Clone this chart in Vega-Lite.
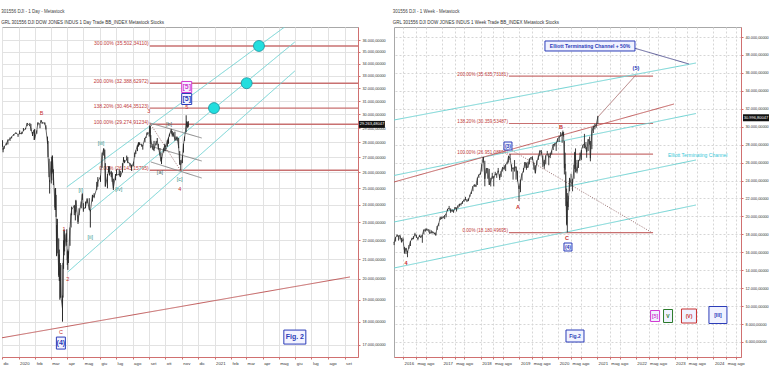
{
"$schema": "https://vega.github.io/schema/vega-lite/v6.json",
"background": "white",
"padding": {"left": 0, "top": 8, "right": 0, "bottom": 0},
"spacing": 6,
"config": {
  "font": "Liberation Sans",
  "view": {"stroke": "#a8a8a8"},
  "axis": {"labelFont": "Liberation Sans", "labelColor": "#333333", "domainColor": "#d07070", "tickColor": "#d07070", "gridColor": "#dedede", "labelFontSize": 4, "tickSize": 2, "labelPadding": 2, "labelOverlap": false},
  "title": {"fontSize": 4.5, "subtitleFontSize": 4.5, "anchor": "start", "color": "#444444", "subtitleColor": "#333333", "fontWeight": "normal", "offset": 3, "subtitlePadding": 6, "font": "Liberation Sans", "subtitleFont": "Liberation Sans"}
},
"datasets": {
  "pxL": [
    {"d":"2019-12-02","l":27700,"h":28150,"c":27783},
    {"d":"2019-12-03","l":27320,"h":27600,"c":27502},
    {"d":"2019-12-05","l":27550,"h":27750,"c":27677},
    {"d":"2019-12-09","l":27800,"h":27950,"c":27909},
    {"d":"2019-12-12","l":27850,"h":28200,"c":28132},
    {"d":"2019-12-16","l":28100,"h":28340,"c":28235},
    {"d":"2019-12-19","l":28270,"h":28400,"c":28377},
    {"d":"2019-12-23","l":28450,"h":28580,"c":28551},
    {"d":"2019-12-27","l":28600,"h":28700,"c":28645},
    {"d":"2019-12-31","l":28380,"h":28550,"c":28538},
    {"d":"2020-01-03","l":28560,"h":28830,"c":28634},
    {"d":"2020-01-07","l":28580,"h":28740,"c":28584},
    {"d":"2020-01-10","l":28800,"h":29000,"c":28823},
    {"d":"2020-01-14","l":28900,"h":29010,"c":28940},
    {"d":"2020-01-17","l":29140,"h":29370,"c":29348},
    {"d":"2020-01-22","l":29150,"h":29370,"c":29186},
    {"d":"2020-01-24","l":28800,"h":29300,"c":28990},
    {"d":"2020-01-27","l":28440,"h":28720,"c":28535},
    {"d":"2020-01-30","l":28160,"h":28880,"c":28859},
    {"d":"2020-01-31","l":28170,"h":28930,"c":28256},
    {"d":"2020-02-04","l":28600,"h":28840,"c":28807},
    {"d":"2020-02-06","l":29200,"h":29410,"c":29380},
    {"d":"2020-02-10","l":28990,"h":29280,"c":29276},
    {"d":"2020-02-12","l":29400,"h":29570,"c":29551},
    {"d":"2020-02-14","l":29300,"h":29420,"c":29398},
    {"d":"2020-02-19","l":29250,"h":29410,"c":29348},
    {"d":"2020-02-21","l":28900,"h":29200,"c":28992},
    {"d":"2020-02-24","l":27900,"h":28400,"c":27961},
    {"d":"2020-02-25","l":27000,"h":28100,"c":27081},
    {"d":"2020-02-27","l":25700,"h":26900,"c":25766},
    {"d":"2020-02-28","l":24680,"h":25500,"c":25409},
    {"d":"2020-03-02","l":25300,"h":26720,"c":26703},
    {"d":"2020-03-03","l":25500,"h":27000,"c":25917},
    {"d":"2020-03-04","l":26000,"h":27100,"c":27091},
    {"d":"2020-03-06","l":25200,"h":26200,"c":25865},
    {"d":"2020-03-09","l":23700,"h":24990,"c":23851},
    {"d":"2020-03-10","l":23700,"h":25020,"c":25018},
    {"d":"2020-03-11","l":23300,"h":24600,"c":23553},
    {"d":"2020-03-12","l":21150,"h":22840,"c":21200},
    {"d":"2020-03-13","l":21300,"h":23190,"c":23185},
    {"d":"2020-03-16","l":20100,"h":22100,"c":20189},
    {"d":"2020-03-17","l":19900,"h":21500,"c":21237},
    {"d":"2020-03-18","l":19000,"h":20600,"c":19899},
    {"d":"2020-03-19","l":19100,"h":20800,"c":20087},
    {"d":"2020-03-20","l":19100,"h":20700,"c":19174},
    {"d":"2020-03-23","l":18000,"h":19200,"c":18592},
    {"d":"2020-03-24","l":19100,"h":20800,"c":20705},
    {"d":"2020-03-25","l":20500,"h":22000,"c":21200},
    {"d":"2020-03-26","l":21200,"h":22600,"c":22552},
    {"d":"2020-03-27","l":21400,"h":22300,"c":21637},
    {"d":"2020-03-30","l":21700,"h":22400,"c":22327},
    {"d":"2020-03-31","l":21900,"h":22600,"c":21917},
    {"d":"2020-04-01","l":20700,"h":21400,"c":20943},
    {"d":"2020-04-02","l":20450,"h":21500,"c":21413},
    {"d":"2020-04-03","l":20800,"h":21400,"c":21053},
    {"d":"2020-04-06","l":21700,"h":22700,"c":22680},
    {"d":"2020-04-08","l":22700,"h":23500,"c":23433},
    {"d":"2020-04-09","l":23400,"h":23900,"c":23719},
    {"d":"2020-04-14","l":23400,"h":24000,"c":23949},
    {"d":"2020-04-16","l":23100,"h":23700,"c":23537},
    {"d":"2020-04-17","l":23600,"h":24300,"c":24242},
    {"d":"2020-04-21","l":22900,"h":23400,"c":23018},
    {"d":"2020-04-23","l":23400,"h":23800,"c":23515},
    {"d":"2020-04-27","l":23800,"h":24200,"c":24134},
    {"d":"2020-04-29","l":24300,"h":24700,"c":24634},
    {"d":"2020-05-01","l":23600,"h":24100,"c":23724},
    {"d":"2020-05-05","l":23800,"h":24200,"c":23883},
    {"d":"2020-05-08","l":24100,"h":24400,"c":24331},
    {"d":"2020-05-12","l":23700,"h":24400,"c":23764},
    {"d":"2020-05-14","l":22700,"h":23700,"c":23625},
    {"d":"2020-05-18","l":24200,"h":24600,"c":24597},
    {"d":"2020-05-21","l":24400,"h":24700,"c":24474},
    {"d":"2020-05-26","l":24900,"h":25400,"c":24995},
    {"d":"2020-05-28","l":25100,"h":25700,"c":25400},
    {"d":"2020-06-02","l":25400,"h":25800,"c":25742},
    {"d":"2020-06-05","l":26300,"h":27300,"c":27111},
    {"d":"2020-06-08","l":27100,"h":27580,"c":27572},
    {"d":"2020-06-10","l":26900,"h":27500,"c":26990},
    {"d":"2020-06-11","l":25100,"h":26600,"c":25128},
    {"d":"2020-06-15","l":25000,"h":25900,"c":25763},
    {"d":"2020-06-17","l":26000,"h":26400,"c":26119},
    {"d":"2020-06-19","l":25800,"h":26400,"c":25871},
    {"d":"2020-06-22","l":25700,"h":26100,"c":26025},
    {"d":"2020-06-24","l":25400,"h":26000,"c":25445},
    {"d":"2020-06-26","l":24900,"h":25600,"c":25016},
    {"d":"2020-06-30","l":25500,"h":25900,"c":25813},
    {"d":"2020-07-02","l":25800,"h":26200,"c":25827},
    {"d":"2020-07-07","l":25800,"h":26200,"c":25890},
    {"d":"2020-07-09","l":25700,"h":26100,"c":25706},
    {"d":"2020-07-13","l":26000,"h":26600,"c":26086},
    {"d":"2020-07-15","l":26700,"h":27000,"c":26870},
    {"d":"2020-07-17","l":26600,"h":26800,"c":26672},
    {"d":"2020-07-21","l":26800,"h":27100,"c":26840},
    {"d":"2020-07-23","l":26600,"h":27000,"c":26652},
    {"d":"2020-07-27","l":26400,"h":26600,"c":26584},
    {"d":"2020-07-30","l":26100,"h":26500,"c":26313},
    {"d":"2020-08-03","l":26400,"h":26700,"c":26664},
    {"d":"2020-08-05","l":27000,"h":27300,"c":27201},
    {"d":"2020-08-07","l":27200,"h":27450,"c":27433},
    {"d":"2020-08-10","l":27400,"h":27800,"c":27791},
    {"d":"2020-08-12","l":27700,"h":28000,"c":27976},
    {"d":"2020-08-14","l":27800,"h":28000,"c":27931},
    {"d":"2020-08-18","l":27700,"h":27900,"c":27778},
    {"d":"2020-08-20","l":27500,"h":27800,"c":27740},
    {"d":"2020-08-24","l":28000,"h":28300,"c":28308},
    {"d":"2020-08-26","l":28300,"h":28400,"c":28332},
    {"d":"2020-08-28","l":28500,"h":28700,"c":28654},
    {"d":"2020-09-01","l":28400,"h":28650,"c":28645},
    {"d":"2020-09-02","l":28650,"h":29200,"c":29100},
    {"d":"2020-09-03","l":27900,"h":29150,"c":28293},
    {"d":"2020-09-04","l":27600,"h":28500,"c":28133},
    {"d":"2020-09-08","l":27500,"h":27900,"c":27500},
    {"d":"2020-09-10","l":27400,"h":28100,"c":27535},
    {"d":"2020-09-14","l":27800,"h":28100,"c":27993},
    {"d":"2020-09-16","l":28000,"h":28300,"c":28032},
    {"d":"2020-09-18","l":27500,"h":27900,"c":27657},
    {"d":"2020-09-21","l":27100,"h":27600,"c":27148},
    {"d":"2020-09-23","l":26700,"h":27300,"c":26763},
    {"d":"2020-09-24","l":26540,"h":27000,"c":26815},
    {"d":"2020-09-28","l":27300,"h":27600,"c":27584},
    {"d":"2020-09-30","l":27400,"h":27900,"c":27782},
    {"d":"2020-10-02","l":27400,"h":27800,"c":27683},
    {"d":"2020-10-05","l":27700,"h":28150,"c":28149},
    {"d":"2020-10-07","l":27900,"h":28350,"c":28303},
    {"d":"2020-10-09","l":28400,"h":28600,"c":28586},
    {"d":"2020-10-12","l":28600,"h":28950,"c":28837},
    {"d":"2020-10-14","l":28400,"h":28800,"c":28514},
    {"d":"2020-10-16","l":28400,"h":28700,"c":28606},
    {"d":"2020-10-19","l":28100,"h":28750,"c":28195},
    {"d":"2020-10-21","l":28200,"h":28400,"c":28211},
    {"d":"2020-10-23","l":28100,"h":28400,"c":28336},
    {"d":"2020-10-26","l":27600,"h":28300,"c":27685},
    {"d":"2020-10-28","l":26500,"h":27400,"c":26520},
    {"d":"2020-10-30","l":26140,"h":26800,"c":26502},
    {"d":"2020-11-02","l":26600,"h":27100,"c":26925},
    {"d":"2020-11-04","l":27300,"h":27900,"c":27847},
    {"d":"2020-11-06","l":28100,"h":28400,"c":28323},
    {"d":"2020-11-09","l":28700,"h":29930,"c":29158},
    {"d":"2020-11-10","l":29100,"h":29500,"c":29420},
    {"d":"2020-11-12","l":29000,"h":29450,"c":29080},
    {"d":"2020-11-13","l":29100,"h":29500,"c":29263}
  ],
  "fibL": [
    {"d1":"2020-09-02","d2":"2021-09-26","v":35502.3411,"t":"300.00% (35.502,34110)"},
    {"d1":"2020-09-02","d2":"2021-09-26","v":32388.62972,"t":"200.00% (32.388,62972)"},
    {"d1":"2020-09-02","d2":"2021-09-26","v":30464.35123,"t":"138.20% (30.464,35123)"},
    {"d1":"2020-09-02","d2":"2021-09-26","v":29274.91234,"t":"100.00% (29.274,91234)"},
    {"d1":"2020-09-02","d2":"2021-09-26","v":26143.15795,"t":"0.00% (26.143,15795)"}
  ],
  "linesL": [
    {"id":"c1","k":"cyan","d":"2020-03-31","v":25082},
    {"id":"c1","k":"cyan","d":"2021-05-12","v":37200},
    {"id":"c2","k":"cyan","d":"2020-05-13","v":23647},
    {"id":"c2","k":"cyan","d":"2021-05-31","v":35852},
    {"id":"c3","k":"cyan","d":"2020-04-02","v":20346},
    {"id":"c3","k":"cyan","d":"2021-05-31","v":33381},
    {"id":"r1","k":"red","d":"2019-12-01","v":17300},
    {"id":"r1","k":"red","d":"2021-09-11","v":20097},
    {"id":"g1","k":"grey","d":"2020-09-02","v":29370},
    {"id":"g1","k":"grey","d":"2020-12-08","v":28302},
    {"id":"g2","k":"grey","d":"2020-09-02","v":27751},
    {"id":"g2","k":"grey","d":"2020-12-08","v":26743},
    {"id":"g3","k":"grey","d":"2020-09-04","v":26678},
    {"id":"g3","k":"grey","d":"2020-12-08","v":25645},
    {"id":"d1","k":"dot","d":"2020-09-02","v":29370},
    {"id":"d1","k":"dot","d":"2020-10-30","v":26100}
  ],
  "circL": [
    {"d":"2021-03-25","v":35502.3411},
    {"d":"2021-03-02","v":32388.62972},
    {"d":"2020-12-31","v":30464.35123}
  ],
  "lblL": [
    {"d":"2020-02-13","v":30100,"t":"B","k":"red"},
    {"d":"2020-03-26","v":22619,"t":"1","k":"red"},
    {"d":"2020-04-02","v":19999,"t":"2","k":"red"},
    {"d":"2020-03-20","v":17545,"t":"C","k":"red"},
    {"d":"2020-04-26","v":24898,"t":"[i]","k":"teal"},
    {"d":"2020-05-14","v":22160,"t":"[ii]","k":"teal"},
    {"d":"2020-06-03","v":27957,"t":"[iii]","k":"teal"},
    {"d":"2020-07-06","v":24960,"t":"[iv]","k":"teal"},
    {"d":"2020-08-31","v":30249,"t":"3","k":"red"},
    {"d":"2020-09-21","v":26027,"t":"[a]","k":"grey"},
    {"d":"2020-10-08","v":29294,"t":"[b]","k":"grey"},
    {"d":"2020-10-28","v":25581,"t":"[c]","k":"teal"},
    {"d":"2020-10-28","v":24960,"t":"4","k":"red"},
    {"d":"2020-11-10","v":30547,"t":"5","k":"red"}
  ],
  "boxL": [
    {"d":"2020-11-10","v":32091,"t":"[5]","k":"mag"},
    {"d":"2020-11-10","v":31153,"t":"[5]","k":"blue"},
    {"d":"2020-03-20","v":17076,"t":"(4)","k":"blue"},
    {"d":"2021-05-31","v":17330,"t":"Fig. 2","k":"blue"}
  ],
  "tagL": [
    {"d":"2021-10-22","v":29263.48047,"t":"29.263,48047"}
  ],
  "pxR": [
    {"d":"2015-10-09","l":16800,"h":17150,"c":17084},
    {"d":"2015-10-23","l":17200,"h":17690,"c":17646},
    {"d":"2015-11-06","l":17700,"h":17980,"c":17910},
    {"d":"2015-11-20","l":17300,"h":17850,"c":17824},
    {"d":"2015-12-04","l":17450,"h":17900,"c":17848},
    {"d":"2015-12-18","l":17100,"h":17600,"c":17128},
    {"d":"2016-01-01","l":17300,"h":17650,"c":17425},
    {"d":"2016-01-15","l":15840,"h":16600,"c":15988},
    {"d":"2016-01-29","l":15800,"h":16500,"c":16466},
    {"d":"2016-02-12","l":15450,"h":16150,"c":15974},
    {"d":"2016-02-26","l":16400,"h":16800,"c":16640},
    {"d":"2016-03-11","l":16700,"h":17250,"c":17213},
    {"d":"2016-03-25","l":17350,"h":17620,"c":17515},
    {"d":"2016-04-08","l":17450,"h":17800,"c":17577},
    {"d":"2016-04-22","l":17900,"h":18170,"c":18003},
    {"d":"2016-05-06","l":17600,"h":17950,"c":17740},
    {"d":"2016-05-20","l":17330,"h":17650,"c":17500},
    {"d":"2016-06-03","l":17700,"h":17950,"c":17807},
    {"d":"2016-06-17","l":17600,"h":17870,"c":17675},
    {"d":"2016-07-01","l":17060,"h":17950,"c":17949},
    {"d":"2016-07-15","l":18000,"h":18530,"c":18516},
    {"d":"2016-07-29","l":18300,"h":18650,"c":18432},
    {"d":"2016-08-12","l":18400,"h":18670,"c":18576},
    {"d":"2016-08-26","l":18400,"h":18580,"c":18395},
    {"d":"2016-09-09","l":18080,"h":18530,"c":18085},
    {"d":"2016-09-23","l":18100,"h":18450,"c":18261},
    {"d":"2016-10-07","l":18100,"h":18330,"c":18240},
    {"d":"2016-10-21","l":18000,"h":18200,"c":18145},
    {"d":"2016-11-04","l":17880,"h":18200,"c":17888},
    {"d":"2016-11-18","l":18500,"h":18930,"c":18868},
    {"d":"2016-12-02","l":18900,"h":19230,"c":19170},
    {"d":"2016-12-16","l":19600,"h":19950,"c":19843},
    {"d":"2016-12-30","l":19700,"h":19980,"c":19763},
    {"d":"2017-01-13","l":19800,"h":20000,"c":19885},
    {"d":"2017-01-27","l":19700,"h":20130,"c":20093},
    {"d":"2017-02-10","l":19900,"h":20300,"c":20269},
    {"d":"2017-02-24","l":20600,"h":20850,"c":20822},
    {"d":"2017-03-10","l":20800,"h":21170,"c":20902},
    {"d":"2017-03-24","l":20400,"h":20900,"c":20597},
    {"d":"2017-04-07","l":20500,"h":20800,"c":20656},
    {"d":"2017-04-21","l":20400,"h":20700,"c":20548},
    {"d":"2017-05-05","l":20800,"h":21050,"c":21006},
    {"d":"2017-05-19","l":20550,"h":21000,"c":20804},
    {"d":"2017-06-02","l":20900,"h":21220,"c":21206},
    {"d":"2017-06-16","l":21100,"h":21400,"c":21384},
    {"d":"2017-06-30","l":21200,"h":21450,"c":21350},
    {"d":"2017-07-14","l":21400,"h":21690,"c":21638},
    {"d":"2017-07-28","l":21600,"h":21900,"c":21830},
    {"d":"2017-08-11","l":21800,"h":22180,"c":21858},
    {"d":"2017-08-25","l":21600,"h":21900,"c":21813},
    {"d":"2017-09-08","l":21700,"h":22000,"c":21798},
    {"d":"2017-09-22","l":22200,"h":22420,"c":22350},
    {"d":"2017-10-06","l":22500,"h":22780,"c":22773},
    {"d":"2017-10-20","l":22800,"h":23370,"c":23329},
    {"d":"2017-11-03","l":23300,"h":23560,"c":23539},
    {"d":"2017-11-17","l":23270,"h":23530,"c":23358},
    {"d":"2017-12-01","l":23500,"h":24330,"c":24232},
    {"d":"2017-12-15","l":24300,"h":24670,"c":24651},
    {"d":"2017-12-29","l":24650,"h":24880,"c":24719},
    {"d":"2018-01-12","l":25000,"h":25810,"c":25803},
    {"d":"2018-01-26","l":26000,"h":26620,"c":26616},
    {"d":"2018-02-09","l":23360,"h":26200,"c":24190},
    {"d":"2018-02-23","l":24800,"h":25400,"c":25310},
    {"d":"2018-03-09","l":24200,"h":25360,"c":25335},
    {"d":"2018-03-23","l":23500,"h":25300,"c":23533},
    {"d":"2018-04-06","l":23340,"h":24300,"c":23932},
    {"d":"2018-04-20","l":24200,"h":24860,"c":24462},
    {"d":"2018-05-04","l":23340,"h":24500,"c":24262},
    {"d":"2018-05-18","l":24600,"h":24970,"c":24715},
    {"d":"2018-06-01","l":24300,"h":24800,"c":24635},
    {"d":"2018-06-15","l":24950,"h":25400,"c":25090},
    {"d":"2018-06-29","l":24050,"h":24700,"c":24271},
    {"d":"2018-07-13","l":24400,"h":25050,"c":25019},
    {"d":"2018-07-27","l":25000,"h":25500,"c":25451},
    {"d":"2018-08-10","l":25200,"h":25700,"c":25313},
    {"d":"2018-08-24","l":25050,"h":25800,"c":25790},
    {"d":"2018-09-07","l":25800,"h":26100,"c":25917},
    {"d":"2018-09-21","l":26000,"h":26760,"c":26743},
    {"d":"2018-10-05","l":26300,"h":26950,"c":26447},
    {"d":"2018-10-19","l":25000,"h":25800,"c":25444},
    {"d":"2018-11-02","l":24100,"h":25500,"c":25270},
    {"d":"2018-11-16","l":25000,"h":26280,"c":25413},
    {"d":"2018-11-30","l":24100,"h":25550,"c":25538},
    {"d":"2018-12-14","l":23900,"h":25100,"c":24100},
    {"d":"2018-12-28","l":21710,"h":23400,"c":23062},
    {"d":"2019-01-11","l":22700,"h":24100,"c":23996},
    {"d":"2019-01-25","l":24000,"h":24800,"c":24737},
    {"d":"2019-02-08","l":24900,"h":25400,"c":25106},
    {"d":"2019-02-22","l":25400,"h":26060,"c":26031},
    {"d":"2019-03-08","l":25200,"h":26000,"c":25450},
    {"d":"2019-03-22","l":25400,"h":26100,"c":25502},
    {"d":"2019-04-05","l":25800,"h":26450,"c":26425},
    {"d":"2019-04-19","l":26300,"h":26580,"c":26559},
    {"d":"2019-05-03","l":26300,"h":26700,"c":26505},
    {"d":"2019-05-17","l":25200,"h":26000,"c":25764},
    {"d":"2019-05-31","l":24800,"h":25700,"c":24815},
    {"d":"2019-06-14","l":25700,"h":26250,"c":26090},
    {"d":"2019-06-28","l":26300,"h":26800,"c":26600},
    {"d":"2019-07-12","l":26700,"h":27350,"c":27332},
    {"d":"2019-07-26","l":27000,"h":27400,"c":27192},
    {"d":"2019-08-09","l":25500,"h":26800,"c":26287},
    {"d":"2019-08-23","l":25300,"h":26300,"c":25628},
    {"d":"2019-09-06","l":25800,"h":26800,"c":26797},
    {"d":"2019-09-20","l":26900,"h":27300,"c":26935},
    {"d":"2019-10-04","l":25700,"h":27000,"c":26573},
    {"d":"2019-10-18","l":26500,"h":27100,"c":26770},
    {"d":"2019-11-01","l":26900,"h":27350,"c":27347},
    {"d":"2019-11-15","l":27400,"h":28050,"c":28005},
    {"d":"2019-11-29","l":27800,"h":28160,"c":28051},
    {"d":"2019-12-13","l":27300,"h":28250,"c":28135},
    {"d":"2019-12-27","l":28300,"h":28700,"c":28645},
    {"d":"2020-01-10","l":28300,"h":29000,"c":28823},
    {"d":"2020-01-24","l":28900,"h":29400,"c":28990},
    {"d":"2020-02-07","l":28200,"h":29300,"c":29102},
    {"d":"2020-02-14","l":29000,"h":29570,"c":29398},
    {"d":"2020-02-21","l":28900,"h":29400,"c":28992},
    {"d":"2020-02-28","l":24680,"h":28400,"c":25409},
    {"d":"2020-03-06","l":25200,"h":27100,"c":25865},
    {"d":"2020-03-13","l":21150,"h":25000,"c":23185},
    {"d":"2020-03-20","l":19000,"h":23100,"c":19174},
    {"d":"2020-03-27","l":18214,"h":22600,"c":21637},
    {"d":"2020-04-03","l":20700,"h":22300,"c":21053},
    {"d":"2020-04-17","l":22800,"h":24300,"c":24242},
    {"d":"2020-05-01","l":23300,"h":24760,"c":23724},
    {"d":"2020-05-15","l":22800,"h":24200,"c":23685},
    {"d":"2020-05-29","l":24200,"h":25760,"c":25383},
    {"d":"2020-06-05","l":25300,"h":27200,"c":27111},
    {"d":"2020-06-12","l":24900,"h":27580,"c":25605},
    {"d":"2020-06-26","l":24800,"h":26300,"c":25016},
    {"d":"2020-07-10","l":25400,"h":26300,"c":26075},
    {"d":"2020-07-24","l":26200,"h":27100,"c":26470},
    {"d":"2020-08-07","l":26300,"h":27400,"c":27433},
    {"d":"2020-08-21","l":27600,"h":28000,"c":27930},
    {"d":"2020-09-04","l":27600,"h":29200,"c":28133},
    {"d":"2020-09-18","l":27500,"h":28300,"c":27657},
    {"d":"2020-09-25","l":26540,"h":27700,"c":27174},
    {"d":"2020-10-09","l":27300,"h":28600,"c":28586},
    {"d":"2020-10-23","l":28000,"h":28900,"c":28336},
    {"d":"2020-10-30","l":26140,"h":28400,"c":26502},
    {"d":"2020-11-13","l":27500,"h":29930,"c":29480},
    {"d":"2020-11-27","l":29300,"h":30120,"c":29910},
    {"d":"2020-12-11","l":29700,"h":30320,"c":30046},
    {"d":"2020-12-24","l":29900,"h":30300,"c":30199},
    {"d":"2021-01-08","l":30300,"h":31200,"c":31097}
  ],
  "fibR": [
    {"d1":"2018-09-24","d2":"2022-06-12","v":35635.73181,"t":"200.00% (35.635,73181)"},
    {"d1":"2018-09-24","d2":"2022-06-12","v":30359.53487,"t":"138.20% (30.359,53487)"},
    {"d1":"2018-09-24","d2":"2022-06-12","v":26951.08594,"t":"100.00% (26.951,08594)"},
    {"d1":"2018-09-24","d2":"2022-06-12","v":18180.49695,"t":"0.00% (18.180,49695)"}
  ],
  "linesR": [
    {"id":"c1","k":"cyan","d":"2015-10-08","v":30747},
    {"id":"c1","k":"cyan","d":"2023-07-21","v":37101},
    {"id":"c2","k":"cyan","d":"2015-10-08","v":24560},
    {"id":"c2","k":"cyan","d":"2023-07-21","v":31472},
    {"id":"c3","k":"cyan","d":"2015-10-08","v":19376},
    {"id":"c3","k":"cyan","d":"2023-07-21","v":26288},
    {"id":"c4","k":"cyan","d":"2015-10-08","v":14247},
    {"id":"c4","k":"cyan","d":"2023-07-21","v":21271},
    {"id":"r1","k":"red","d":"2015-10-08","v":23835},
    {"id":"r1","k":"red","d":"2022-12-26","v":32531},
    {"id":"n1","k":"navy","d":"2021-12-14","v":38774},
    {"id":"n1","k":"navy","d":"2023-05-16","v":36990},
    {"id":"d1","k":"dot","d":"2018-09-15","v":27625},
    {"id":"d1","k":"dot","d":"2022-05-23","v":18261},
    {"id":"p1","k":"thin","d":"2021-01-09","v":31081},
    {"id":"p1","k":"thin","d":"2022-01-02","v":35764}
  ],
  "lblR": [
    {"d":"2016-01-29","v":14805,"t":"4","k":"red"},
    {"d":"2018-12-18","v":21048,"t":"A","k":"red"},
    {"d":"2020-01-27","v":29967,"t":"B","k":"red"},
    {"d":"2020-03-24","v":17592,"t":"C","k":"red"},
    {"d":"2022-01-02","v":36544,"t":"(5)","k":"blue"}
  ],
  "boxR": [
    {"d":"2018-09-15","v":27848,"t":"(3)","k":"blue"},
    {"d":"2020-04-02","v":16589,"t":"(4)","k":"blue"},
    {"d":"2022-07-01","v":8896,"t":"[5]","k":"mag"},
    {"d":"2022-10-31","v":8896,"t":"V","k":"green"},
    {"d":"2023-05-16","v":8896,"t":"(V)","k":"red"},
    {"d":"2024-02-13","v":9008,"t":"[III]","k":"blue"},
    {"d":"2020-06-07","v":6667,"t":"Fig.2","k":"blue"},
    {"d":"2020-10-26","v":38997,"t":"Elliott Terminating Channel + 50%","k":"blue"}
  ],
  "noteR": [
    {"d":"2022-10-31","v":26845,"t":"Elliott Terminating Channel"}
  ],
  "tagR": [
    {"d":"2025-02-05","v":30996.80047,"t":"30.996,80047"}
  ]
},
"hconcat": [
  {
    "width": 356, "height": 330,
    "title": {"text": "301556 DJI - 1 Day - Metastock", "subtitle": "GRL  301556 DJI     DOW JONES INDUS  1 Day      Trade  BB_INDEX  Metastock  Stocks"},
    "resolve": {"scale": {"color": "independent", "stroke": "independent", "strokeDash": "independent", "shape": "independent", "size": "independent"}},
    "layer": [
      {
        "data": {"name": "fibL"},
        "mark": {"type": "rule", "color": "#c87070", "strokeWidth": 1.4},
        "encoding": {
          "x": {"field": "d1", "type": "temporal", "scale": {"type": "utc", "domain": [{"year":2019,"month":12,"date":1,"utc":true},{"year":2021,"month":9,"date":26,"utc":true}]},
                "axis": {"title": null, "orient": "bottom", "grid": true, "gridColor": "#e2e2e2", "labelAlign": "left", "labelOffset": 1, "labelFontSize": 4.3, "labelOverlap": false, "labelSeparation": 0, "tickCount": 200,
                         "values": [{"year":2019,"month":12,"date":1,"utc":true},{"year":2020,"month":1,"date":1,"utc":true},{"year":2020,"month":2,"date":1,"utc":true},{"year":2020,"month":3,"date":1,"utc":true},{"year":2020,"month":4,"date":1,"utc":true},{"year":2020,"month":5,"date":1,"utc":true},{"year":2020,"month":6,"date":1,"utc":true},{"year":2020,"month":7,"date":1,"utc":true},{"year":2020,"month":8,"date":1,"utc":true},{"year":2020,"month":9,"date":1,"utc":true},{"year":2020,"month":10,"date":1,"utc":true},{"year":2020,"month":11,"date":1,"utc":true},{"year":2020,"month":12,"date":1,"utc":true},{"year":2021,"month":1,"date":1,"utc":true},{"year":2021,"month":2,"date":1,"utc":true},{"year":2021,"month":3,"date":1,"utc":true},{"year":2021,"month":4,"date":1,"utc":true},{"year":2021,"month":5,"date":1,"utc":true},{"year":2021,"month":6,"date":1,"utc":true},{"year":2021,"month":7,"date":1,"utc":true},{"year":2021,"month":8,"date":1,"utc":true},{"year":2021,"month":9,"date":1,"utc":true}],
                         "labelExpr": "utcmonth(datum.value)==0 ? utcFormat(datum.value,'%Y') : ['gen','feb','mar','apr','mag','giu','lug','ago','set','ott','nov','dic'][utcmonth(datum.value)]"}},
          "x2": {"field": "d2"},
          "y": {"field": "v", "type": "quantitative", "scale": {"type": "log", "domain": [16500, 37200], "nice": false},
                "axis": {"title": null, "orient": "right", "grid": true, "gridColor": "#e2e2e2", "minExtent": 26, "maxExtent": 26, "labelFontSize": 3.8, "labelOverlap": false, "tickCount": 200,
                         "values": [17000,18000,19000,20000,21000,22000,23000,24000,25000,26000,27000,28000,29000,30000,31000,32000,33000,34000,35000,36000],
                         "labelExpr": "replace(replace(replace(format(datum.value, ',.5f'), ',', '_'), '.', ','), '_', '.')"}}
        }
      },
      {
        "data": {"name": "fibL"},
        "mark": {"type": "text", "align": "right", "baseline": "bottom", "dx": -1, "dy": 0.5, "fontSize": 5, "color": "#c03a3a"},
        "encoding": {
          "x": {"field": "d1", "type": "temporal"},
          "y": {"field": "v", "type": "quantitative"},
          "text": {"field": "t"}
        }
      },
      {
        "data": {"name": "linesL"},
        "mark": {"type": "line", "strokeWidth": 1, "clip": true},
        "encoding": {
          "x": {"field": "d", "type": "temporal"},
          "y": {"field": "v", "type": "quantitative"},
          "detail": {"field": "id"},
          "color": {"field": "k", "type": "nominal", "scale": {"domain": ["cyan","red","grey","dot"], "range": ["#6fd3d3","#c05a5a","#8a8a8a","#9a7070"]}, "legend": null},
          "strokeDash": {"field": "k", "type": "nominal", "scale": {"domain": ["cyan","red","grey","dot"], "range": [[1,0],[1,0],[1,0],[1,1.5]]}, "legend": null}
        }
      },
      {
        "data": {"name": "pxL"},
        "mark": {"type": "rule", "color": "#2a2a2a", "strokeWidth": 1},
        "encoding": {
          "x": {"field": "d", "type": "temporal"},
          "y": {"field": "l", "type": "quantitative"},
          "y2": {"field": "h"}
        }
      },
      {
        "data": {"name": "pxL"},
        "mark": {"type": "line", "color": "#2a2a2a", "strokeWidth": 0.7},
        "encoding": {
          "x": {"field": "d", "type": "temporal"},
          "y": {"field": "c", "type": "quantitative"}
        }
      },
      {
        "data": {"name": "circL"},
        "mark": {"type": "point", "shape": "circle", "size": 120, "filled": true, "fill": "#22dede", "stroke": "#1a8f9c", "strokeWidth": 0.8, "opacity": 1},
        "encoding": {
          "x": {"field": "d", "type": "temporal"},
          "y": {"field": "v", "type": "quantitative"}
        }
      },
      {
        "data": {"name": "lblL"},
        "mark": {"type": "text", "fontSize": 5.5},
        "encoding": {
          "x": {"field": "d", "type": "temporal"},
          "y": {"field": "v", "type": "quantitative"},
          "text": {"field": "t"},
          "color": {"field": "k", "type": "nominal", "scale": {"domain": ["red","teal","grey"], "range": ["#c83030","#2f948a","#4c6e6a"]}, "legend": null}
        }
      },
      {
        "data": {"name": "boxL"},
        "mark": {"type": "point", "size": 4, "filled": true, "fill": "#f3f3ff", "strokeWidth": 1, "opacity": 1},
        "encoding": {
          "x": {"field": "d", "type": "temporal"},
          "y": {"field": "v", "type": "quantitative"},
          "shape": {"field": "t", "type": "nominal", "scale": {"domain": ["[5]","(4)","Fig. 2"], "range": ["M-5,-5.5H5V5.5H-5Z","M-4.5,-6H4.5V6H-4.5Z","M-11,-7H11V7H-11Z"]}, "legend": null},
          "stroke": {"field": "k", "type": "nominal", "scale": {"domain": ["mag","blue"], "range": ["#d23cd2","#2b3cb8"]}, "legend": null}
        }
      },
      {
        "data": {"name": "boxL"},
        "mark": {"type": "text", "fontWeight": "bold"},
        "encoding": {
          "x": {"field": "d", "type": "temporal"},
          "y": {"field": "v", "type": "quantitative"},
          "text": {"field": "t"},
          "size": {"field": "t", "type": "ordinal", "scale": {"domain": ["[5]","(4)","Fig. 2"], "range": [7, 7, 8]}, "legend": null},
          "color": {"field": "k", "type": "nominal", "scale": {"domain": ["mag","blue"], "range": ["#d23cd2","#2b3cb8"]}, "legend": null}
        }
      },
      {
        "data": {"name": "tagL"},
        "mark": {"type": "point", "shape": "M-13,-3.5H13V3.5H-13Z", "size": 4, "filled": true, "fill": "#111111", "opacity": 1},
        "encoding": {
          "x": {"field": "d", "type": "temporal"},
          "y": {"field": "v", "type": "quantitative"}
        }
      },
      {
        "data": {"name": "tagL"},
        "mark": {"type": "text", "fontSize": 4, "color": "white"},
        "encoding": {
          "x": {"field": "d", "type": "temporal"},
          "y": {"field": "v", "type": "quantitative"},
          "text": {"field": "t"}
        }
      }
    ]
  },
  {
    "width": 347, "height": 330,
    "title": {"text": "301556 DJI - 1 Week - Metastock", "subtitle": "GRL  301556 DJI     DOW JONES INDUS  1 Week      Trade  BB_INDEX  Metastock  Stocks"},
    "resolve": {"scale": {"color": "independent", "stroke": "independent", "strokeDash": "independent", "shape": "independent", "size": "independent"}},
    "layer": [
      {
        "data": {"name": "fibR"},
        "mark": {"type": "rule", "color": "#c87070", "strokeWidth": 1.2},
        "encoding": {
          "x": {"field": "d1", "type": "temporal", "scale": {"type": "utc", "domain": [{"year":2015,"month":10,"date":8,"utc":true},{"year":2024,"month":9,"date":17,"utc":true}]},
                "axis": {"title": null, "orient": "bottom", "grid": true, "gridColor": "#d6d6d6", "gridDash": [2,2], "labelAlign": "left", "labelOffset": 1, "labelFontSize": 4.3, "labelOverlap": false, "labelSeparation": 0, "tickCount": 200,
                         "values": [{"year":2016,"month":1,"date":1,"utc":true},{"year":2016,"month":5,"date":1,"utc":true},{"year":2016,"month":8,"date":1,"utc":true},{"year":2017,"month":1,"date":1,"utc":true},{"year":2017,"month":5,"date":1,"utc":true},{"year":2017,"month":8,"date":1,"utc":true},{"year":2018,"month":1,"date":1,"utc":true},{"year":2018,"month":5,"date":1,"utc":true},{"year":2018,"month":8,"date":1,"utc":true},{"year":2019,"month":1,"date":1,"utc":true},{"year":2019,"month":5,"date":1,"utc":true},{"year":2019,"month":8,"date":1,"utc":true},{"year":2020,"month":1,"date":1,"utc":true},{"year":2020,"month":5,"date":1,"utc":true},{"year":2020,"month":8,"date":1,"utc":true},{"year":2021,"month":1,"date":1,"utc":true},{"year":2021,"month":5,"date":1,"utc":true},{"year":2021,"month":8,"date":1,"utc":true},{"year":2022,"month":1,"date":1,"utc":true},{"year":2022,"month":5,"date":1,"utc":true},{"year":2022,"month":8,"date":1,"utc":true},{"year":2023,"month":1,"date":1,"utc":true},{"year":2023,"month":5,"date":1,"utc":true},{"year":2023,"month":8,"date":1,"utc":true},{"year":2024,"month":1,"date":1,"utc":true},{"year":2024,"month":5,"date":1,"utc":true},{"year":2024,"month":8,"date":1,"utc":true}],
                         "labelExpr": "utcmonth(datum.value)==0 ? utcFormat(datum.value,'%Y') : (utcmonth(datum.value)==4 ? 'mag' : 'ago')"}},
          "x2": {"field": "d2"},
          "y": {"field": "v", "type": "quantitative", "scale": {"domain": [4326, 41115], "nice": false, "zero": false},
                "axis": {"title": null, "orient": "right", "grid": true, "gridColor": "#d6d6d6", "gridDash": [2,2], "minExtent": 26, "maxExtent": 26, "labelFontSize": 3.8, "labelOverlap": false, "tickCount": 200,
                         "values": [6000,8000,10000,12000,14000,16000,18000,20000,22000,24000,26000,28000,30000,32000,34000,36000,38000,40000],
                         "labelExpr": "replace(replace(replace(format(datum.value, ',.5f'), ',', '_'), '.', ','), '_', '.')"}}
        }
      },
      {
        "data": {"name": "fibR"},
        "mark": {"type": "text", "align": "right", "baseline": "bottom", "dx": -1, "dy": 0.5, "fontSize": 4.6, "color": "#c03a3a"},
        "encoding": {
          "x": {"field": "d1", "type": "temporal"},
          "y": {"field": "v", "type": "quantitative"},
          "text": {"field": "t"}
        }
      },
      {
        "data": {"name": "linesR"},
        "mark": {"type": "line", "strokeWidth": 1, "clip": true},
        "encoding": {
          "x": {"field": "d", "type": "temporal"},
          "y": {"field": "v", "type": "quantitative"},
          "detail": {"field": "id"},
          "color": {"field": "k", "type": "nominal", "scale": {"domain": ["cyan","red","navy","dot","thin"], "range": ["#6fd3d3","#c05a5a","#5a5a96","#9a7070","#b07a7a"]}, "legend": null},
          "strokeDash": {"field": "k", "type": "nominal", "scale": {"domain": ["cyan","red","navy","dot","thin"], "range": [[1,0],[1,0],[1,0],[1,1.5],[1,0]]}, "legend": null}
        }
      },
      {
        "data": {"name": "pxR"},
        "mark": {"type": "rule", "color": "#2a2a2a", "strokeWidth": 0.9},
        "encoding": {
          "x": {"field": "d", "type": "temporal"},
          "y": {"field": "l", "type": "quantitative"},
          "y2": {"field": "h"}
        }
      },
      {
        "data": {"name": "pxR"},
        "mark": {"type": "line", "color": "#2a2a2a", "strokeWidth": 0.7},
        "encoding": {
          "x": {"field": "d", "type": "temporal"},
          "y": {"field": "c", "type": "quantitative"}
        }
      },
      {
        "data": {"name": "noteR"},
        "mark": {"type": "text", "align": "left", "fontSize": 5, "color": "#3cc8d8"},
        "encoding": {
          "x": {"field": "d", "type": "temporal"},
          "y": {"field": "v", "type": "quantitative"},
          "text": {"field": "t"}
        }
      },
      {
        "data": {"name": "lblR"},
        "mark": {"type": "text", "fontSize": 5.5, "fontWeight": "bold"},
        "encoding": {
          "x": {"field": "d", "type": "temporal"},
          "y": {"field": "v", "type": "quantitative"},
          "text": {"field": "t"},
          "color": {"field": "k", "type": "nominal", "scale": {"domain": ["red","blue"], "range": ["#c83030","#2b3cb8"]}, "legend": null}
        }
      },
      {
        "data": {"name": "boxR"},
        "mark": {"type": "point", "size": 4, "filled": true, "fill": "#f0f2ff", "strokeWidth": 1, "opacity": 1},
        "encoding": {
          "x": {"field": "d", "type": "temporal"},
          "y": {"field": "v", "type": "quantitative"},
          "shape": {"field": "t", "type": "nominal", "scale": {"domain": ["(3)","(4)","[5]","V","(V)","[III]","Fig.2","Elliott Terminating Channel + 50%"], "range": ["M-4,-4H4V4H-4Z","M-4,-4H4V4H-4Z","M-4.5,-5.5H4.5V5.5H-4.5Z","M-4.5,-6.5H4.5V6.5H-4.5Z","M-7.5,-7H7.5V7H-7.5Z","M-9,-8.5H9V8.5H-9Z","M-9,-6H9V6H-9Z","M-45,-5H45V5H-45Z"]}, "legend": null},
          "stroke": {"field": "k", "type": "nominal", "scale": {"domain": ["blue","mag","green","red"], "range": ["#2b3cb8","#d23cd2","#2a7a2a","#c83030"]}, "legend": null}
        }
      },
      {
        "data": {"name": "boxR"},
        "mark": {"type": "text", "fontWeight": "bold"},
        "encoding": {
          "x": {"field": "d", "type": "temporal"},
          "y": {"field": "v", "type": "quantitative"},
          "text": {"field": "t"},
          "size": {"field": "t", "type": "ordinal", "scale": {"domain": ["(3)","(4)","[5]","V","(V)","[III]","Fig.2","Elliott Terminating Channel + 50%"], "range": [5, 5, 6, 10, 10, 12, 7, 5]}, "legend": null},
          "color": {"field": "k", "type": "nominal", "scale": {"domain": ["blue","mag","green","red"], "range": ["#2b3cb8","#d23cd2","#2a7a2a","#c83030"]}, "legend": null}
        }
      },
      {
        "data": {"name": "tagR"},
        "mark": {"type": "point", "shape": "M-13,-3.5H13V3.5H-13Z", "size": 4, "filled": true, "fill": "#111111", "opacity": 1},
        "encoding": {
          "x": {"field": "d", "type": "temporal"},
          "y": {"field": "v", "type": "quantitative"}
        }
      },
      {
        "data": {"name": "tagR"},
        "mark": {"type": "text", "fontSize": 4, "color": "white"},
        "encoding": {
          "x": {"field": "d", "type": "temporal"},
          "y": {"field": "v", "type": "quantitative"},
          "text": {"field": "t"}
        }
      }
    ]
  }
]
}
